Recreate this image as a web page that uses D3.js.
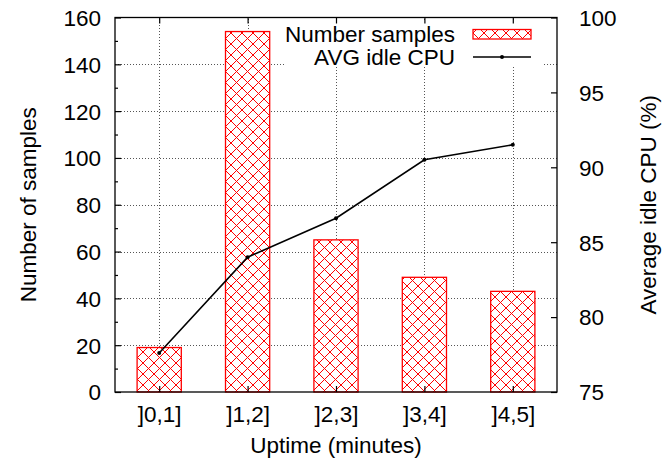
<!DOCTYPE html>
<html>
<head>
<meta charset="utf-8">
<script src="https://cdn.jsdelivr.net/npm/d3@7"></script>
<style>
  html, body { margin: 0; padding: 0; background: #fff; }
  svg { display: block; font-family: "Liberation Sans", Arial, sans-serif; }
</style>
</head>
<body>
<svg id="chart" width="662" height="463"></svg>
<script>
// Uptime buckets, sample counts per bucket and average idle CPU per bucket
const categories = ["]0,1]", "]1,2]", "]2,3]", "]3,4]", "]4,5]"];
const sampleCounts = [19, 154, 65, 49, 43];
const avgIdleCpu = [77.6, 84.0, 86.6, 90.5, 91.5];
const leftTicks = [0, 20, 40, 60, 80, 100, 120, 140, 160];
const leftMinorTicks = [10, 30, 50, 70, 90, 110, 130, 150];
const rightTicks = [75, 80, 85, 90, 95, 100];

const FS = 22.5;
const svg = d3.select("#chart");
const margin = { left: 115, right: 105, top: 17.5, bottom: 71 };
const W = 662, H = 463;
const x0 = margin.left, x1 = W - margin.right;
const y0 = H - margin.bottom, y1 = margin.top;

const x = d3.scaleLinear().domain([-0.5, categories.length - 0.5]).range([x0, x1]);
const yL = d3.scaleLinear().domain([0, 160]).range([y0, y1]);
const yR = d3.scaleLinear().domain([75, 100]).range([y0, y1]);
const barW = x(0.25) - x(-0.25);

// crosshatch fill for the bars
const defs = svg.append("defs");
const pat = defs.append("pattern")
  .attr("id", "hatch").attr("patternUnits", "userSpaceOnUse")
  .attr("width", 11).attr("height", 11);
pat.append("rect").attr("width", 11).attr("height", 11).attr("fill", "#fff");
pat.append("path")
  .attr("d", "M0,0L11,11M0,11L11,0M-1,1L1,-1M10,12L12,10M-1,10L1,12M10,-1L12,1")
  .attr("stroke", "#f00").attr("stroke-width", 1).attr("fill", "none");

// grid
const gridStyle = g => g.attr("stroke", "#555").attr("stroke-width", 1)
  .attr("stroke-dasharray", "1,2").attr("fill", "none");
const grid = svg.append("g");
leftTicks.slice(1, -1).forEach(v => {
  grid.append("line").attr("x1", x0).attr("x2", x1)
    .attr("y1", Math.round(yL(v)) + 0.5).attr("y2", Math.round(yL(v)) + 0.5).call(gridStyle);
});
categories.forEach((c, i) => {
  grid.append("line").attr("x1", Math.round(x(i)) + 0.5).attr("x2", Math.round(x(i)) + 0.5)
    .attr("y1", y0).attr("y2", y1).call(gridStyle);
});

// bars
svg.append("g").selectAll("rect").data(sampleCounts).join("rect")
  .attr("x", (d, i) => x(i) - barW / 2)
  .attr("y", d => yL(d))
  .attr("width", barW)
  .attr("height", d => y0 - yL(d))
  .attr("fill", "url(#hatch)")
  .attr("stroke", "#f00").attr("stroke-width", 1.3);

// idle CPU line with point markers
const lineGen = d3.line().x((d, i) => x(i)).y(d => yR(d));
svg.append("path").datum(avgIdleCpu).attr("d", lineGen)
  .attr("fill", "none").attr("stroke", "#000").attr("stroke-width", 1.6);
svg.append("g").selectAll("circle").data(avgIdleCpu).join("circle")
  .attr("cx", (d, i) => x(i)).attr("cy", d => yR(d)).attr("r", 2).attr("fill", "#000");

// legend
const lg = svg.append("g");
lg.append("rect").attr("x", 286).attr("y", 21).attr("width", 257).attr("height", 46).attr("fill", "#fff");
lg.append("text").attr("x", 455).attr("y", 34).attr("text-anchor", "end")
  .attr("dominant-baseline", "central").attr("font-size", FS).text("Number samples");
lg.append("text").attr("x", 455).attr("y", 57).attr("text-anchor", "end")
  .attr("dominant-baseline", "central").attr("font-size", FS).text("AVG idle CPU");
lg.append("rect").attr("x", 473).attr("y", 29.5).attr("width", 58).attr("height", 9.5)
  .attr("fill", "url(#hatch)").attr("stroke", "#f00").attr("stroke-width", 1.3);
lg.append("line").attr("x1", 473).attr("x2", 531).attr("y1", 57).attr("y2", 57)
  .attr("stroke", "#000").attr("stroke-width", 1.6);
lg.append("circle").attr("cx", 502).attr("cy", 57).attr("r", 2).attr("fill", "#000");

// frame
svg.append("rect").attr("x", x0).attr("y", y1).attr("width", x1 - x0).attr("height", y0 - y1)
  .attr("fill", "none").attr("stroke", "#000").attr("stroke-width", 1.3);

// axes
const leftAxis = d3.axisLeft(yL).tickValues(leftTicks).tickSize(-6).tickPadding(14);
const gL = svg.append("g").attr("transform", `translate(${x0},0)`).call(leftAxis);
const leftMinor = d3.axisLeft(yL).tickValues(leftMinorTicks).tickSize(-3).tickFormat("");
svg.append("g").attr("transform", `translate(${x0},0)`).call(leftMinor);

const rightAxis = d3.axisRight(yR).tickValues(rightTicks).tickSize(-6).tickPadding(22);
const gR = svg.append("g").attr("transform", `translate(${x1},0)`).call(rightAxis);

const bottomAxis = d3.axisBottom(x).tickValues(d3.range(categories.length))
  .tickFormat(i => categories[i]).tickSize(-6).tickPadding(14);
const gB = svg.append("g").attr("transform", `translate(0,${y0})`).call(bottomAxis);
const topTicks = d3.axisTop(x).tickValues(d3.range(categories.length)).tickSize(-6).tickFormat("");
svg.append("g").attr("transform", `translate(0,${y1})`).call(topTicks);

svg.selectAll(".domain").remove();
svg.selectAll(".tick line").attr("stroke", "#000").attr("stroke-width", 1.2);
svg.selectAll(".tick text").attr("font-size", FS).attr("fill", "#000")
  .attr("font-family", "'Liberation Sans', Arial, sans-serif");
gL.selectAll(".tick text").attr("dy", "0.35em");
gR.selectAll(".tick text").attr("dy", "0.35em");

// axis titles
svg.append("text").attr("transform", `translate(28,${(y0 + y1) / 2}) rotate(-90)`)
  .attr("text-anchor", "middle").attr("dominant-baseline", "central")
  .attr("font-size", FS).text("Number of samples");
svg.append("text").attr("transform", `translate(648,${(y0 + y1) / 2}) rotate(-90)`)
  .attr("text-anchor", "middle").attr("dominant-baseline", "central")
  .attr("font-size", FS).text("Average idle CPU (%)");
svg.append("text").attr("x", (x0 + x1) / 2).attr("y", 445)
  .attr("text-anchor", "middle").attr("dominant-baseline", "central")
  .attr("font-size", FS).text("Uptime (minutes)");
</script>
</body>
</html>
